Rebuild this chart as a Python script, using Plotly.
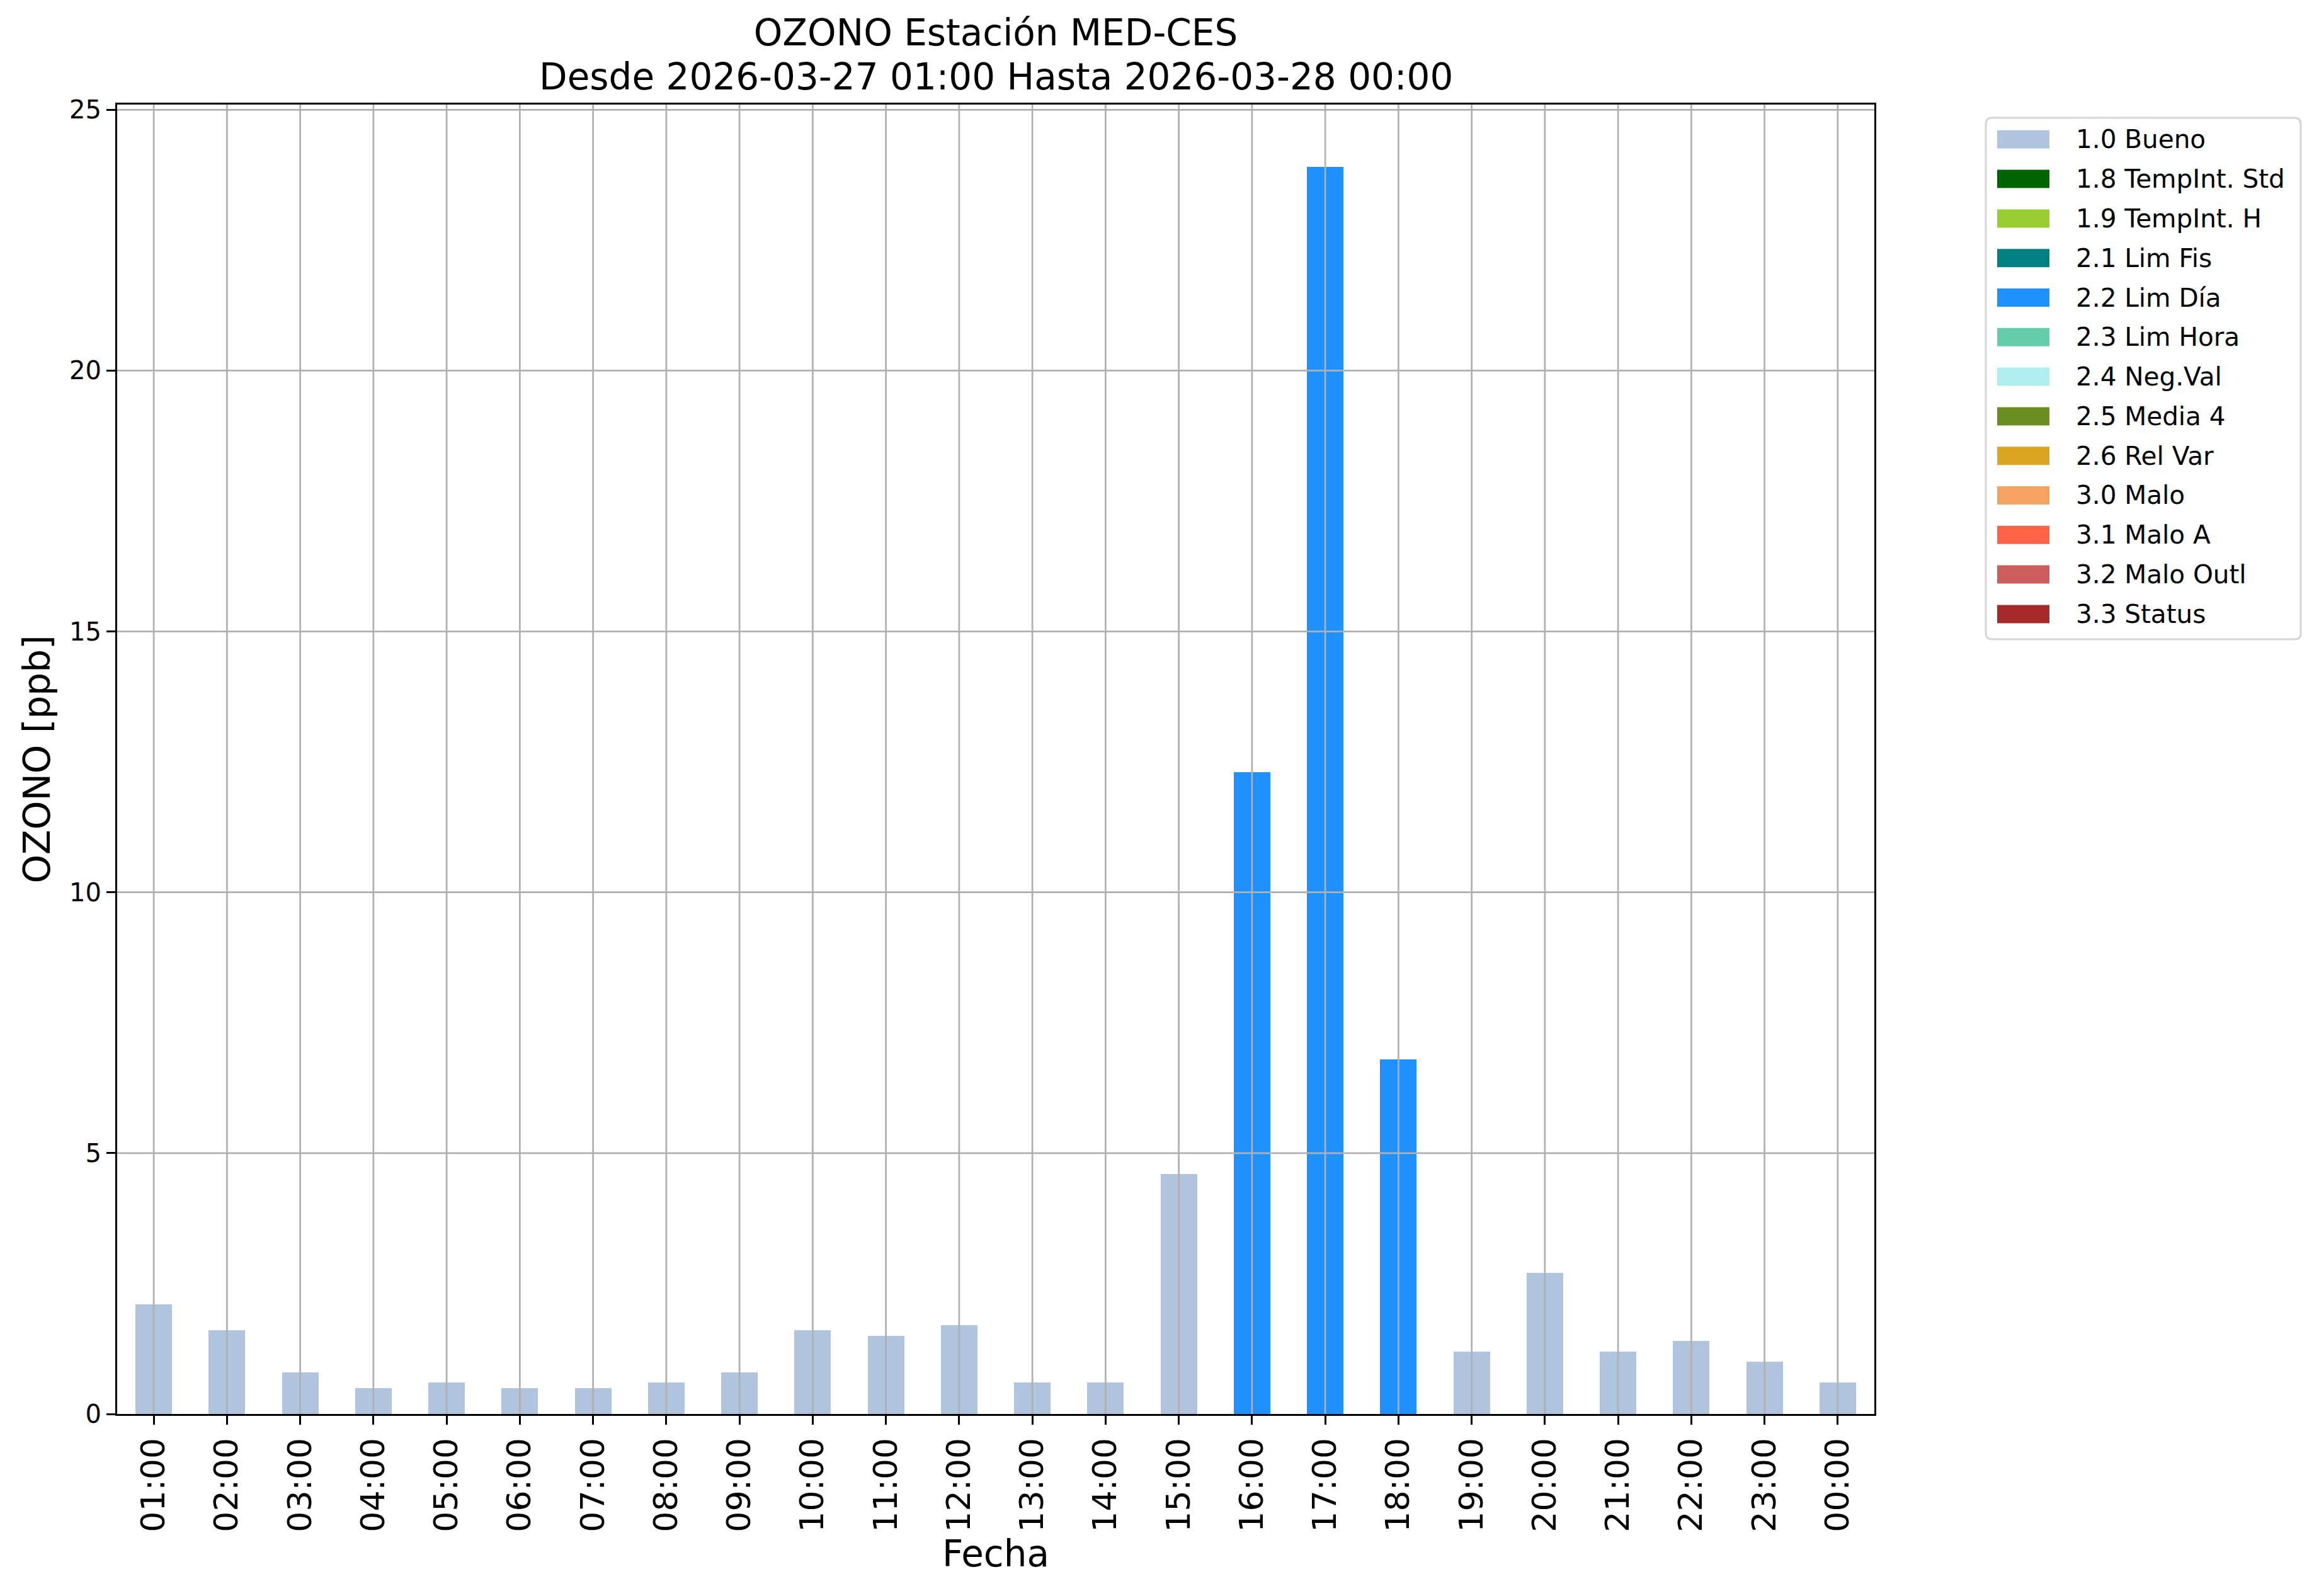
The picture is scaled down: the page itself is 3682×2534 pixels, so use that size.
import plotly.graph_objects as go

# ---------------- data ----------------
horas = ["01:00", "02:00", "03:00", "04:00", "05:00", "06:00", "07:00", "08:00",
         "09:00", "10:00", "11:00", "12:00", "13:00", "14:00", "15:00", "16:00",
         "17:00", "18:00", "19:00", "20:00", "21:00", "22:00", "23:00", "00:00"]
ozono = [2.1, 1.6, 0.8, 0.5, 0.6, 0.5, 0.5, 0.6, 0.8, 1.6, 1.5, 1.7,
         0.6, 0.6, 4.6, 12.3, 23.9, 6.8, 1.2, 2.7, 1.2, 1.4, 1.0, 0.6]
bandera = ["1.0 Bueno", "1.0 Bueno", "1.0 Bueno", "1.0 Bueno", "1.0 Bueno", "1.0 Bueno",
           "1.0 Bueno", "1.0 Bueno", "1.0 Bueno", "1.0 Bueno", "1.0 Bueno", "1.0 Bueno",
           "1.0 Bueno", "1.0 Bueno", "1.0 Bueno", "2.2 Lim Día", "2.2 Lim Día", "2.2 Lim Día",
           "1.0 Bueno", "1.0 Bueno", "1.0 Bueno", "1.0 Bueno", "1.0 Bueno", "1.0 Bueno"]
categorias = ["1.0 Bueno", "1.8 TempInt. Std", "1.9 TempInt. H", "2.1 Lim Fis", "2.2 Lim Día",
              "2.3 Lim Hora", "2.4 Neg.Val", "2.5 Media 4", "2.6 Rel Var", "3.0 Malo",
              "3.1 Malo A", "3.2 Malo Outl", "3.3 Status"]
colores = ["#B0C4DE", "#006400", "#9ACD32", "#008080", "#1E90FF", "#66CDAA", "#AFEEEE",
           "#6B8E23", "#DAA520", "#F4A460", "#FF6347", "#CD5C5C", "#A52A2A"]
yticks = [0, 5, 10, 15, 20, 25]
titulo1 = "OZONO Estación MED-CES"
titulo2 = "Desde 2026-03-27 01:00 Hasta 2026-03-28 00:00"

# ---------------- layout geometry (pixels) ----------------
W, H = 3682, 2534
PL, PR, PT, PB = 186, 2976, 166, 2245
FONT = "DejaVu Sans"
GRID = "#b0b0b0"


def px_x(px):
    return (px - PL) / (PR - PL)


def px_y(py):
    return (PB - py) / (PB - PT)


fig = go.Figure()
for cat, col in zip(categorias, colores):
    ys = [v if b == cat else None for v, b in zip(ozono, bandera)]
    fig.add_trace(go.Bar(x=horas, y=ys, name=cat, marker=dict(color=col, line=dict(width=0)),
                         width=0.5, showlegend=False))

shapes = []
# grid above bars (matplotlib style)
for h in horas:
    shapes.append(dict(type="line", xref="x", yref="paper", x0=h, x1=h, y0=0, y1=1,
                       line=dict(color=GRID, width=2.7), layer="above"))
for t in yticks[1:]:
    shapes.append(dict(type="line", xref="paper", yref="y", x0=0, x1=1, y0=t, y1=t,
                       line=dict(color=GRID, width=2.7), layer="above"))

# legend box (manual, matplotlib look)
bx0, bx1, by0, by1, r = px_x(3153), px_x(3653), px_y(187), px_y(1015), 10
rx = r / (PR - PL)
ry = r / (PB - PT)
path = (f"M {bx0 + rx},{by0} L {bx1 - rx},{by0} Q {bx1},{by0} {bx1},{by0 - ry} "
        f"L {bx1},{by1 + ry} Q {bx1},{by1} {bx1 - rx},{by1} "
        f"L {bx0 + rx},{by1} Q {bx0},{by1} {bx0},{by1 + ry} "
        f"L {bx0},{by0 - ry} Q {bx0},{by0} {bx0 + rx},{by0} Z")
shapes.append(dict(type="path", xref="paper", yref="paper", path=path,
                   line=dict(color="#d6d6d6", width=3), fillcolor="white", layer="above"))

annotations = []
for i, (cat, col) in enumerate(zip(categorias, colores)):
    cy = 221.3 + 62.8 * i
    shapes.append(dict(type="rect", xref="paper", yref="paper",
                       x0=px_x(3171), x1=px_x(3254), y0=px_y(cy - 14.5), y1=px_y(cy + 14.5),
                       fillcolor=col, line=dict(width=0), layer="above"))
    annotations.append(dict(xref="paper", yref="paper", x=px_x(3294), y=px_y(cy),
                            xanchor="left", yanchor="middle", text=cat, showarrow=False,
                            font=dict(family=FONT, size=40.5, color="black")))

annotations.append(dict(xref="paper", yref="paper", x=0.5, y=px_y(121.7),
                        xanchor="center", yanchor="middle", text=titulo2, showarrow=False,
                        font=dict(family=FONT, size=58, color="black")))

fig.update_layout(
    width=W, height=H, autosize=False,
    margin=dict(l=PL, r=W - PR, t=PT, b=H - PB, pad=0),
    paper_bgcolor="white", plot_bgcolor="white",
    barmode="stack", bargap=0,
    title=dict(text=titulo1, x=px_x(1581), xref="paper", xanchor="center",
               yref="container", y=1 - 52 / H, yanchor="middle",
               font=dict(family=FONT, size=58, color="black")),
    font=dict(family=FONT, color="black"),
    shapes=shapes, annotations=annotations,
    xaxis=dict(type="category", categoryorder="array", categoryarray=horas,
               range=[-0.5, len(horas) - 0.5], showgrid=False, zeroline=False,
               showline=True, linecolor="black", linewidth=3, mirror=True,
               ticks="outside", ticklen=14, tickwidth=3, tickcolor="black",
               tickangle=-90, tickfont=dict(family=FONT, size=52, color="black"),
               title=dict(text="Fecha", font=dict(family=FONT, size=58, color="black"), standoff=5),
               automargin=False),
    yaxis=dict(range=[0, 25.1], tickvals=yticks, showgrid=False, zeroline=False,
               showline=True, linecolor="black", linewidth=3, mirror=True,
               ticks="outside", ticklen=14, tickwidth=3, tickcolor="black",
               tickfont=dict(family=FONT, size=40, color="black"),
               title=dict(text="OZONO [ppb]", font=dict(family=FONT, size=58, color="black"), standoff=12),
               automargin=False),
)

fig.write_html("out.html", config={"displayModeBar": False},
               post_script="document.body.style.margin='0';")
